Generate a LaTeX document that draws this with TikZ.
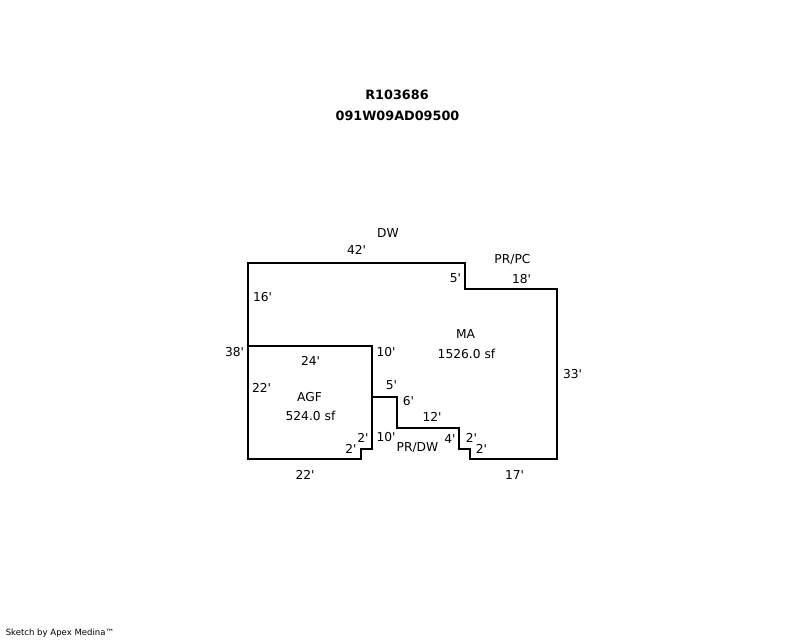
\documentclass[tikz,border=0pt]{standalone}
\usepackage{fontspec}
\newfontfamily\plainfont{DejaVu Sans}
\tikzset{
  wall/.style={draw=black,line width=1.5pt,line join=miter,line cap=rect},
  lbl/.style={inner sep=0pt,font=\plainfont\fontsize{9.2}{11}\selectfont,text=black},
  ttl/.style={inner sep=0pt,font=\plainfont\fontsize{9.6}{11}\selectfont\bfseries,text=black},
  foot/.style={inner sep=0pt,anchor=west,font=\plainfont\fontsize{6.4}{8}\selectfont,text=black}
}
\begin{document}
\begin{tikzpicture}[x=0.75pt,y=-0.75pt]
\useasboundingbox (0,0) rectangle (800,640);
\fill[white] (0,0) rectangle (800,640);
\draw[wall] (248,263) -- (465,263) -- (465,289) -- (557,289) -- (557,459) -- (470,459) -- (470,449) -- (459,449) -- (459,428) -- (397,428) -- (397,397) -- (372,397) -- (372,449) -- (361,449) -- (361,459) -- (248,459) -- cycle;
\draw[wall] (248,346) -- (372,346) -- (372,397);
\node[ttl] (t1) at (397,95) {R103686};
\node[ttl] (t2) at (397.5,115.5) {091W09AD09500};
\node[lbl] (a1) at (388,233.5) {DW};
\node[lbl] (a2) at (356.5,249.5) {42'};
\node[lbl] (a3) at (512.5,259.5) {PR/PC};
\node[lbl] (a4) at (521.5,279) {18'};
\node[lbl] (a5) at (455.5,278) {5'};
\node[lbl] (a6) at (262.5,297.5) {16'};
\node[lbl] (a7) at (234.5,352) {38'};
\node[lbl] (a8) at (310.5,360.5) {24'};
\node[lbl] (a9) at (386,352.5) {10'};
\node[lbl] (b1) at (465.5,334.5) {MA};
\node[lbl] (b2) at (466.5,353.5) {1526.0 sf};
\node[lbl] (b3) at (572.5,374.5) {33'};
\node[lbl] (b4) at (261.5,388) {22'};
\node[lbl] (b5) at (391.5,385.5) {5'};
\node[lbl] (b6) at (408.5,401) {6'};
\node[lbl] (b7) at (309.5,397) {AGF};
\node[lbl] (b8) at (310.5,416) {524.0 sf};
\node[lbl] (b9) at (432,416.5) {12'};
\node[lbl] (c1) at (363,437.5) {2'};
\node[lbl] (c2) at (351,449) {2'};
\node[lbl] (c3) at (386,437.5) {10'};
\node[lbl] (c4) at (417.5,448) {PR/DW};
\node[lbl] (c5) at (450,439) {4'};
\node[lbl] (c6) at (471.5,437.5) {2'};
\node[lbl] (c7) at (481.5,449) {2'};
\node[lbl] (c8) at (305,474.5) {22'};
\node[lbl] (c9) at (514.5,475) {17'};
\node[foot] (f) at (5.5,633.5) {Sketch by Apex Medina™};
\end{tikzpicture}
\end{document}
